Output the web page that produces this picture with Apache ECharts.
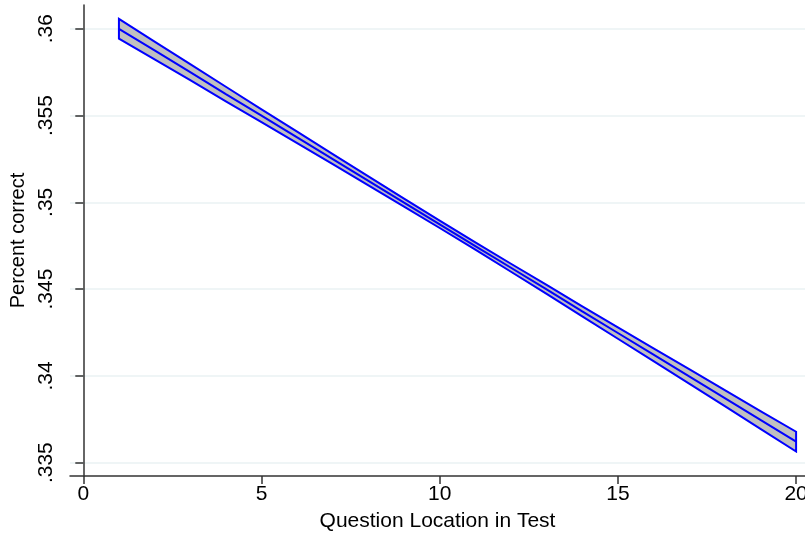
<!DOCTYPE html>
<html>
<head>
<meta charset="utf-8">
<script src="https://cdn.jsdelivr.net/npm/echarts@6/dist/echarts.min.js"></script>
<style>
  html, body { margin: 0; padding: 0; background: #fff; }
  #main { width: 805px; height: 535px; }
</style>
</head>
<body>
<div id="main"></div>
<script>
// question location
var xs = [1, 2, 3, 4, 5, 6, 7, 8, 9, 10, 11, 12, 13, 14, 15, 16, 17, 18, 19, 20];
// fitted percent correct
var fit = [0.36000, 0.35875, 0.35750, 0.35624, 0.35499, 0.35374, 0.35249, 0.35124, 0.34998, 0.34873,
           0.34748, 0.34623, 0.34498, 0.34372, 0.34247, 0.34122, 0.33997, 0.33872, 0.33746, 0.33621];
// confidence band
var upper = [0.36057, 0.35926, 0.35796, 0.35666, 0.35536, 0.35407, 0.35278, 0.35150, 0.35021, 0.34894,
             0.34769, 0.34646, 0.34524, 0.34401, 0.34280, 0.34159, 0.34039, 0.33918, 0.33797, 0.33678];
var lower = [0.35943, 0.35824, 0.35704, 0.35582, 0.35462, 0.35341, 0.35220, 0.35098, 0.34975, 0.34852,
             0.34727, 0.34600, 0.34472, 0.34343, 0.34214, 0.34085, 0.33955, 0.33826, 0.33695, 0.33564];
var xTicks = [0, 5, 10, 15, 20];
var yTicks = [0.335, 0.34, 0.345, 0.35, 0.355, 0.36];

var font = 'Liberation Sans';
var blue = '#0000ff';

var option = {
  animation: false,
  grid: { left: 70, right: 0, top: 5, bottom: 59, outerBoundsMode: 'none' },
  xAxis: {
    type: 'value',
    min: -0.373,
    max: 20.25,
    name: 'Question Location in Test',
    nameLocation: 'middle',
    nameGap: 35,
    nameTextStyle: { fontFamily: font, fontSize: 21, color: '#000' },
    axisLine: { show: true, lineStyle: { color: '#333', width: 1.5 } },
    axisTick: { show: true, length: 8, customValues: xTicks, lineStyle: { color: '#333', width: 1.5 } },
    axisLabel: {
      customValues: xTicks,
      margin: 8,
      fontFamily: font, fontSize: 21, color: '#000'
    },
    splitLine: { show: false }
  },
  yAxis: {
    type: 'value',
    min: 0.33423,
    max: 0.36137,
    name: 'Percent correct',
    nameLocation: 'middle',
    nameGap: 33,
    nameTextStyle: { fontFamily: font, fontSize: 20, color: '#000' },
    axisLine: { show: true, lineStyle: { color: '#333', width: 1.5 } },
    axisTick: { show: true, length: 8, customValues: yTicks, lineStyle: { color: '#333', width: 1.5 } },
    axisLabel: {
      customValues: yTicks,
      rotate: 90,
      margin: 13,
      fontFamily: font, fontSize: 21, color: '#000',
      formatter: function (v) { return String(+v.toFixed(3)).replace(/^0/, ''); }
    },
    splitLine: { show: true, lineStyle: { color: '#eaf2f3', width: 1.5 } }
  },
  series: [
    {
      type: 'custom',
      data: [[xs[0], fit[0]]],
      renderItem: function (params, api) {
        var pts = [];
        for (var i = 0; i < xs.length; i++) pts.push(api.coord([xs[i], upper[i]]));
        for (var j = xs.length - 1; j >= 0; j--) pts.push(api.coord([xs[j], lower[j]]));
        return {
          type: 'polygon',
          shape: { points: pts },
          style: { fill: '#c0c0c0', stroke: blue, lineWidth: 2 }
        };
      },
      z: 2
    },
    {
      type: 'line',
      data: xs.map(function (x, i) { return [x, fit[i]]; }),
      showSymbol: false,
      symbol: 'none',
      lineStyle: { color: blue, width: 2 },
      z: 3
    }
  ]
};

var myChart = echarts.init(document.getElementById('main'));
myChart.setOption(option);
</script>
</body>
</html>
